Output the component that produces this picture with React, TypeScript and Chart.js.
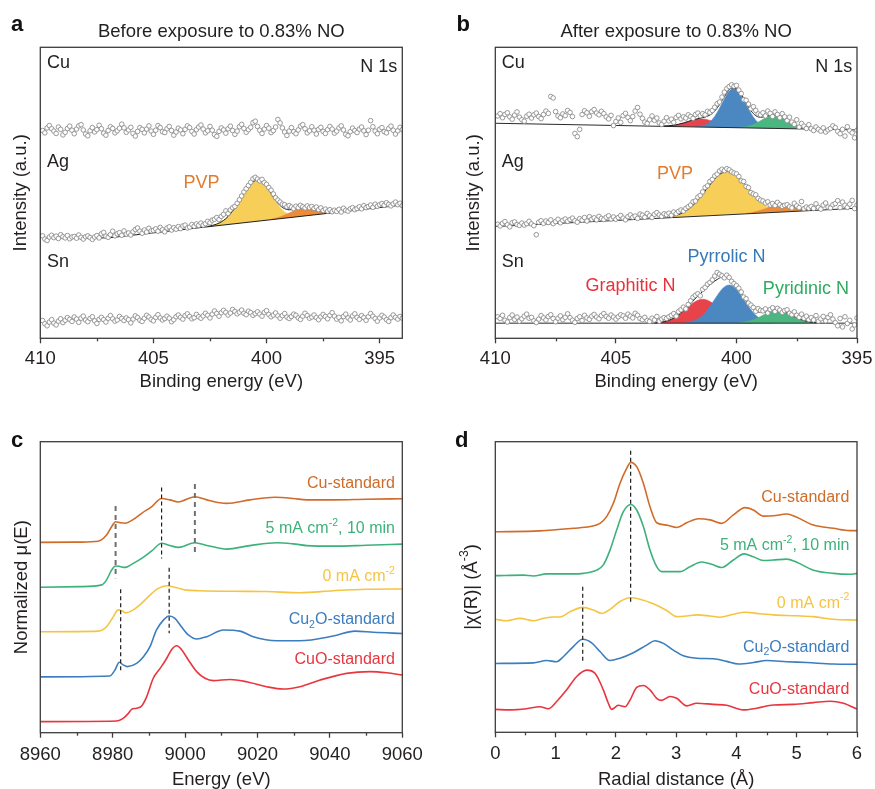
import { useEffect, useRef } from 'react';
import { Chart, registerables } from 'chart.js';

Chart.register(...registerables);

const FONT = '"Liberation Sans", Arial, Helvetica, sans-serif';
const INK = '#231f20';
const FRAME = '#3c3c3c';

// ---------------- Panel a : N 1s before exposure ----------------
const xpsStart = 409.9;
const xpsStep = 0.1;
const dotsCuA = [
  71.4, 70.6, 72.3, 73.1, 72.0, 71.2, 70.4, 72.6, 71.8, 69.9,
  70.8, 72.1, 72.9, 71.5, 70.3, 71.9, 73.0, 73.4, 71.6, 70.2,
  69.6, 71.3, 72.4, 70.9, 71.7, 73.2, 72.0, 70.5, 69.8, 71.4,
  72.7, 72.1, 70.6, 71.3, 72.2, 73.6, 72.3, 70.8, 71.6, 72.5,
  70.4, 69.5, 71.1, 72.4, 71.8, 70.6, 71.9, 73.0, 71.2, 70.1,
  71.5, 73.1, 72.4, 71.0, 70.7, 72.0, 72.8, 71.4, 69.8, 70.9,
  72.2, 71.6, 70.3, 71.8, 73.0, 72.4, 71.1, 70.2, 71.7, 72.6,
  73.3, 71.9, 70.6, 71.3, 72.8, 71.5, 70.0, 69.4, 71.1, 72.3,
  71.6, 70.5, 72.0, 72.9, 71.4, 70.1, 71.2, 72.7, 73.5, 72.1,
  70.8, 71.7, 72.5, 74.1, 74.6, 72.8, 71.5, 70.4, 71.9, 73.1,
  72.2, 70.7, 71.4, 72.6, 75.2, 74.0, 72.3, 70.9, 69.7, 71.2,
  72.4, 71.0, 70.3, 71.6, 72.9, 73.4, 72.0, 70.6, 71.3, 72.7,
  71.5, 70.2, 71.8, 72.5, 71.1, 70.4, 71.7, 72.8, 71.9, 70.5,
  71.2, 72.3, 73.0, 71.6, 70.1, 69.6, 71.0, 72.2, 71.4, 70.7,
  71.9, 72.6, 71.3, 70.0, 71.5, 74.8, 72.7, 71.2, 70.3, 71.8,
  72.4, 71.0, 70.6, 72.1, 72.9, 71.5, 70.2, 71.3, 72.5, 71.7,
];
const dotsAgA = [
  35.2, 34.1, 33.6, 34.8, 35.4, 34.6, 35.1, 34.3, 35.6, 34.9,
  34.5, 35.3, 34.2, 34.8, 35.0, 34.4, 35.5, 34.7, 34.1, 34.9,
  35.2, 34.6, 34.0, 34.8, 35.3, 34.5, 35.9, 36.4, 35.1, 34.7,
  35.6, 36.8, 35.2, 35.9, 36.3, 35.4, 36.9, 35.8, 36.2, 35.5,
  36.6, 37.4, 37.9, 36.8, 36.1, 37.2, 36.5, 37.8, 36.9, 37.1,
  37.6, 36.8, 38.1, 37.3, 36.6, 37.9, 38.3, 37.2, 38.0, 37.5,
  38.4, 37.7, 38.6, 38.9, 37.9, 38.2, 39.1, 38.5, 39.3, 38.8,
  39.6, 38.9, 39.4, 40.2, 39.7, 40.6, 40.9, 41.5, 40.8, 41.9,
  42.6, 43.8, 42.9, 44.1, 44.9, 45.3, 46.4, 47.6, 48.9, 50.3,
  51.4, 52.5, 53.6, 54.8, 55.3, 54.7, 54.1, 54.6, 53.5, 52.9,
  51.8, 50.9, 49.6, 48.3, 47.5, 46.8, 46.1, 45.9, 45.2, 45.6,
  45.1, 44.6, 45.4, 44.9, 45.7, 45.2, 44.8, 45.5, 44.9, 45.3,
  44.6, 45.1, 44.2, 44.8, 43.9, 44.4, 43.7, 44.2, 43.5, 44.0,
  43.6, 44.3, 43.4, 44.7, 44.0, 43.7, 44.5, 44.9, 44.2, 44.6,
  45.2, 44.5, 45.6, 44.9, 45.3, 45.8, 45.0, 46.1, 45.4, 45.9,
  46.3, 45.7, 46.6, 46.0, 45.5, 46.2, 46.8, 45.9, 46.4, 45.6,
];
const dotsSnA = [
  6.1, 5.0, 4.3, 5.6, 6.4, 5.2, 4.6, 5.9, 6.7, 5.4,
  6.2, 7.1, 6.5, 5.8, 7.3, 6.6, 5.5, 6.9, 7.6, 6.3,
  5.7, 6.8, 7.4, 6.0, 5.1, 6.5, 7.2, 6.4, 5.6, 6.9,
  7.8, 6.7, 5.9, 6.3, 7.5, 6.8, 6.1, 7.0, 6.4, 5.3,
  6.6, 7.7, 7.1, 6.2, 5.8, 6.9, 7.9, 7.3, 6.5, 6.0,
  7.2, 8.1, 7.0, 6.3, 6.8, 7.6, 6.9, 5.7, 6.4, 7.4,
  8.0, 7.2, 6.6, 7.8, 8.4, 7.5, 6.7, 7.1, 8.2, 7.4,
  6.9, 7.7, 8.6, 7.9, 7.0, 8.3, 9.4, 8.5, 7.6, 8.8,
  9.6, 8.9, 8.0, 8.7, 9.9, 9.2, 8.4, 9.0, 9.7, 8.6,
  8.1, 9.3, 8.8, 7.9, 8.5, 9.1, 8.3, 7.6, 8.9, 9.5,
  8.2, 7.4, 8.0, 8.7, 7.7, 6.9, 7.8, 8.5, 7.3, 6.8,
  7.5, 8.3, 7.9, 7.0, 6.5, 7.6, 8.6, 7.8, 6.9, 7.3,
  8.0, 7.1, 6.4, 7.4, 8.2, 7.5, 6.7, 7.9, 8.8, 7.6,
  6.6, 7.2, 6.0, 7.5, 8.3, 7.0, 6.3, 7.7, 8.4, 7.2,
  6.5, 7.8, 7.1, 6.2, 7.4, 8.5, 7.6, 6.8, 5.9, 7.0,
  7.9, 7.3, 6.4, 5.8, 7.1, 8.0, 7.2, 6.6, 7.5, 6.9,
];
const baseAgA_E = [409.7, 407.0, 394.0];
const baseAgA_I = [34.5, 34.5, 45.8];
const pvpMainA_E = [402.6, 402.4, 402.2, 402.0, 401.8, 401.6, 401.4, 401.2, 401.0, 400.8, 400.6, 400.4, 400.2, 400.0, 399.8, 399.6, 399.4, 399.2, 399.0, 398.8, 398.6, 398.4];
const pvpMainA_I = [38.41, 38.76, 39.25, 40.01, 41.12, 42.69, 44.74, 47.15, 49.71, 52.02, 53.68, 54.40, 53.85, 52.07, 49.61, 47.07, 44.93, 43.43, 42.52, 42.10, 41.97, 42.01];
const pvpMinorA_E = [399.8, 399.6, 399.4, 399.2, 399.0, 398.8, 398.6, 398.4, 398.2, 398.0, 397.8, 397.6, 397.4, 397.2, 397.0, 396.8];
const pvpMinorA_I = [40.90, 41.25, 41.74, 42.35, 43.05, 43.75, 44.31, 44.63, 44.66, 44.44, 44.09, 43.74, 43.47, 43.34, 43.33, 43.40];
const envAgA_E = [402.6, 402.2, 401.8, 401.4, 401.2, 401.0, 400.8, 400.6, 400.4, 400.2, 400.0, 399.8, 399.6, 399.4, 399.2, 399.0, 398.8, 398.6, 398.4, 398.2, 398.0, 397.6, 397.2, 396.8];
const envAgA_I = [38.41, 39.25, 41.12, 44.74, 47.15, 49.71, 52.02, 53.68, 54.40, 53.85, 52.15, 49.79, 47.43, 45.60, 44.54, 44.16, 44.26, 44.52, 44.71, 44.66, 44.44, 43.74, 43.34, 43.40];

// ---------------- Panel b : N 1s after exposure ----------------
const dotsCuB = [
  76.4, 77.2, 75.8, 76.9, 77.5, 76.1, 75.3, 76.7, 77.8, 76.0,
  75.1, 74.6, 76.3, 77.0, 75.7, 76.8, 77.4, 76.2, 75.5, 76.9,
  78.1, 77.3, 83.1, 82.6, 77.9, 76.4, 75.8, 77.1, 76.5, 78.3,
  77.6, 76.2, 70.4, 69.3, 71.8, 76.9, 78.2, 77.5, 76.3, 77.9,
  78.6, 77.4, 76.8, 78.0, 77.2, 76.1, 75.4, 76.6, 73.1, 74.5,
  75.7, 74.2, 76.5, 77.3, 75.9, 74.8, 76.2, 78.1, 79.3, 77.0,
  75.6, 74.3, 73.8, 75.1, 76.4, 74.9, 75.7, 74.0, 73.5, 74.6,
  75.8, 74.7, 75.3, 74.2, 75.9, 76.6, 75.4, 76.1, 75.7, 76.8,
  76.2, 75.6, 76.9, 77.4, 76.5, 77.2, 76.8, 78.0, 77.6, 78.3,
  79.4, 80.6, 81.2, 82.9, 84.6, 85.8, 86.5, 87.1, 86.6, 86.9,
  85.3, 84.1, 82.0, 81.8, 80.5, 78.9, 79.6, 78.3, 77.1, 76.8,
  77.5, 76.4, 78.1, 77.3, 76.2, 77.8, 76.9, 75.8, 77.2, 76.1,
  74.8, 76.0, 74.3, 73.5, 75.1, 72.6, 73.8, 72.9, 72.1, 73.4,
  72.0, 71.4, 72.6, 71.8, 71.2, 72.3, 70.9, 71.6, 72.1, 73.0,
  72.4, 71.1, 70.3, 71.8, 69.5, 72.7, 71.3, 70.6, 68.9, 71.5,
];
const dotsAgB = [
  39.2, 38.6, 39.5, 40.1, 39.0, 38.3, 39.7, 40.0, 39.1, 38.8,
  39.6, 38.9, 39.4, 40.2, 39.3, 38.7, 35.6, 39.9, 40.4, 39.5,
  40.3, 39.8, 40.7, 39.4, 40.1, 40.9, 39.7, 40.5, 41.0, 40.2,
  40.8, 41.3, 40.4, 39.9, 41.1, 40.6, 41.5, 40.3, 41.8, 40.9,
  41.4, 40.7, 41.9, 41.2, 40.8, 41.6, 42.1, 41.0, 41.7, 40.9,
  41.5, 42.2, 41.3, 40.7, 41.8, 42.4, 41.6, 42.0, 41.2, 42.7,
  42.3, 41.6, 42.9, 42.1, 41.5, 42.6, 43.2, 42.4, 41.9, 42.8,
  42.5, 43.0, 42.3, 43.4, 42.8, 43.6, 44.1, 43.7, 44.6, 45.2,
  45.8, 46.9, 47.2, 48.5, 49.1, 50.3, 51.8, 52.4, 53.9, 54.6,
  55.8, 56.4, 57.5, 58.1, 57.6, 58.3, 57.9, 57.2, 56.8, 56.5,
  55.6, 54.1, 53.9, 52.2, 51.8, 50.1, 49.6, 49.3, 48.1, 47.5,
  47.2, 46.5, 46.9, 45.8, 46.3, 45.6, 46.7, 45.9, 45.3, 45.7,
  45.9, 45.2, 44.8, 46.4, 45.5, 44.9, 47.0, 44.5, 45.1, 44.7,
  45.3, 44.6, 46.2, 45.0, 44.4, 45.8, 46.5, 45.1, 44.8, 45.9,
  46.3, 47.3, 44.9, 46.8, 45.7, 45.0, 46.1, 47.4, 44.6, 45.8,
];
const dotsSnB = [
  7.4, 6.8, 7.9, 6.2, 5.6, 7.1, 8.0, 6.5, 7.3, 5.9,
  6.7, 7.6, 8.3, 6.9, 7.2, 6.0, 5.4, 6.6, 7.8, 7.0,
  6.3, 7.5, 8.1, 6.8, 5.7, 6.9, 7.7, 6.4, 7.2, 8.4,
  7.1, 6.2, 5.5, 6.8, 7.4, 6.1, 7.9, 7.0, 6.5, 7.6,
  8.2, 7.3, 6.7, 7.8, 8.5, 7.5, 6.9, 8.0, 7.3, 6.6,
  7.4, 8.1, 7.7, 6.9, 8.3, 7.6, 7.0, 8.6, 7.9, 6.8,
  6.4, 7.2, 6.1, 5.8, 6.9, 6.3, 7.5, 5.9, 6.6, 7.1,
  6.8, 7.4, 7.9, 8.5, 7.6, 9.2, 9.8, 10.7, 10.1, 11.6,
  12.9, 14.1, 14.8, 15.3, 14.6, 16.8, 17.5, 18.6, 19.2, 20.1,
  21.4, 22.6, 22.0, 21.5, 20.8, 21.7, 20.9, 19.6, 18.8, 18.1,
  17.2, 15.9, 14.2, 13.6, 12.1, 11.4, 10.6, 9.3, 10.2, 9.6,
  9.4, 10.1, 8.7, 9.9, 10.5, 9.2, 10.3, 9.7, 8.9, 9.5,
  9.8, 8.6, 8.1, 9.1, 7.9, 7.2, 8.3, 6.9, 7.6, 6.4,
  7.1, 6.3, 7.8, 5.9, 6.7, 7.5, 6.0, 7.2, 8.1, 6.6,
  5.4, 4.3, 6.8, 3.9, 7.4, 5.1, 6.2, 3.2, 4.6, 7.0,
];
const baseCuB_E = [410, 395];
const baseCuB_I = [73.9, 71.6];
const graphCuB_E = [403.0, 402.8, 402.6, 402.4, 402.2, 402.0, 401.8, 401.6, 401.4, 401.2, 401.0, 400.8, 400.6, 400.4, 400.2, 400.0, 399.8];
const graphCuB_I = [72.93, 73.02, 73.22, 73.54, 73.98, 74.51, 75.00, 75.32, 75.37, 75.12, 74.63, 74.05, 73.49, 73.04, 72.72, 72.52, 72.40];
const pyrrCuB_E = [401.7, 401.5, 401.3, 401.1, 400.9, 400.7, 400.5, 400.3, 400.1, 399.9, 399.7, 399.5, 399.3, 399.1, 398.9, 398.7, 398.5];
const pyrrCuB_I = [72.71, 72.87, 73.33, 74.37, 76.26, 79.05, 82.25, 84.88, 85.89, 84.82, 82.13, 78.87, 76.02, 74.07, 72.97, 72.45, 72.23];
const pyriCuB_E = [399.9, 399.7, 399.5, 399.3, 399.1, 398.9, 398.7, 398.5, 398.3, 398.1, 397.9, 397.7, 397.5, 397.3, 397.1, 396.9];
const pyriCuB_I = [72.46, 72.60, 72.91, 73.47, 74.28, 75.24, 76.13, 76.67, 76.64, 76.04, 75.09, 74.06, 73.19, 72.57, 72.20, 72.00];
const envCuB_E = [403.0, 402.6, 402.2, 401.8, 401.6, 401.4, 401.2, 401.0, 400.8, 400.6, 400.4, 400.2, 400.0, 399.8, 399.6, 399.4, 399.2, 399.0, 398.8, 398.6, 398.4, 398.2, 398.0, 397.8, 397.6, 397.4, 397.2, 397.0, 396.8];
const envCuB_I = [72.93, 73.22, 73.98, 75.04, 75.47, 75.83, 76.32, 77.30, 79.12, 81.68, 84.32, 85.95, 85.75, 83.86, 80.93, 78.23, 76.52, 75.96, 76.18, 76.62, 76.77, 76.41, 75.60, 74.57, 73.60, 72.85, 72.37, 72.09, 71.95];
const baseAgB_E = [410, 395];
const baseAgB_I = [38.4, 44.7];
const pvpMainB_E = [402.8, 402.6, 402.4, 402.2, 402.0, 401.8, 401.6, 401.4, 401.2, 401.0, 400.8, 400.6, 400.4, 400.2, 400.0, 399.8, 399.6, 399.4, 399.2, 399.0, 398.8, 398.6, 398.4, 398.2, 398.0];
const pvpMainB_I = [41.70, 42.03, 42.53, 43.26, 44.30, 45.68, 47.43, 49.47, 51.67, 53.80, 55.60, 56.84, 57.33, 57.01, 55.94, 54.30, 52.34, 50.31, 48.44, 46.86, 45.64, 44.77, 44.21, 43.88, 43.72];
const pvpMinorB_E = [399.6, 399.4, 399.2, 399.0, 398.8, 398.6, 398.4, 398.2, 398.0, 397.8, 397.6, 397.4, 397.2, 397.0, 396.8];
const pvpMinorB_I = [42.93, 43.17, 43.54, 44.01, 44.56, 45.11, 45.63, 45.76, 45.71, 45.44, 45.07, 44.68, 44.38, 44.18, 44.10];
const envAgB_E = [402.8, 402.4, 402.0, 401.6, 401.2, 400.8, 400.6, 400.4, 400.2, 400.0, 399.8, 399.6, 399.4, 399.2, 399.0, 398.8, 398.6, 398.4, 398.2, 398.0, 397.8, 397.6, 397.4, 397.2, 397.0, 396.8];
const envAgB_I = [41.70, 42.53, 44.30, 47.43, 51.67, 55.60, 56.84, 57.33, 57.01, 55.94, 54.36, 52.50, 50.63, 49.04, 47.85, 47.10, 46.69, 46.48, 46.28, 45.99, 45.58, 45.13, 44.68, 44.38, 44.18, 44.10];
const baseSnB_E = [410, 395];
const baseSnB_I = [5.2, 5.2];
const graphSnB_E = [403.4, 403.2, 403.0, 402.8, 402.6, 402.4, 402.2, 402.0, 401.8, 401.6, 401.4, 401.2, 401.0, 400.8, 400.6, 400.4, 400.2, 400.0, 399.8, 399.6, 399.4];
const graphSnB_I = [5.31, 5.45, 5.71, 6.18, 6.93, 7.98, 9.31, 10.76, 12.10, 13.05, 13.40, 13.05, 12.10, 10.76, 9.31, 7.98, 6.93, 6.18, 5.71, 5.45, 5.31];
const pyrrSnB_E = [402.1, 401.9, 401.7, 401.5, 401.3, 401.1, 400.9, 400.7, 400.5, 400.3, 400.1, 399.9, 399.7, 399.5, 399.3, 399.1, 398.9, 398.7, 398.5];
const pyrrSnB_I = [5.39, 5.67, 6.22, 7.22, 8.77, 10.90, 13.40, 15.84, 17.63, 18.30, 17.63, 15.84, 13.40, 10.90, 8.77, 7.22, 6.22, 5.67, 5.39];
const pyriSnB_E = [399.9, 399.7, 399.5, 399.3, 399.1, 398.9, 398.7, 398.5, 398.3, 398.1, 397.9, 397.7, 397.5, 397.3, 397.1, 396.9, 396.7];
const pyriSnB_I = [5.35, 5.54, 5.86, 6.37, 7.07, 7.89, 8.69, 9.28, 9.50, 9.28, 8.69, 7.89, 7.07, 6.37, 5.86, 5.54, 5.35];
const envSnB_E = [403.4, 403.0, 402.6, 402.2, 402.0, 401.8, 401.6, 401.4, 401.2, 401.0, 400.8, 400.6, 400.4, 400.2, 400.0, 399.8, 399.6, 399.4, 399.2, 399.0, 398.8, 398.6, 398.4, 398.2, 398.0, 397.8, 397.6, 397.4, 397.2, 397.0, 396.8, 396.6];
const envSnB_I = [5.31, 5.71, 6.93, 9.43, 11.06, 12.80, 14.50, 16.11, 17.62, 19.03, 20.22, 20.97, 20.91, 19.86, 17.94, 15.40, 12.86, 10.77, 9.46, 8.92, 9.00, 9.33, 9.56, 9.44, 9.03, 8.30, 7.47, 6.70, 6.09, 5.68, 5.43, 5.30];

const xpsMajorTicks = [410, 405, 400, 395];
const xpsMinorTicks = [407.5, 402.5, 397.5];

// ---------------- Panel c : XANES ----------------
const cuStdC_E = [8960, 8971, 8976, 8978.3, 8979.7, 8980.8, 8982, 8983.4, 8985.7, 8988, 8990.8, 8993.5, 8995.8, 8998.1, 9002.7, 9006, 9009.6, 9011.5, 9017.9, 9024.8, 9029.9, 9033.6, 9040.9, 9050, 9060];
const cuStdC_I = [65.4, 65.5, 65.8, 67.9, 70.8, 72.5, 72.2, 72.0, 73.3, 75.4, 77.7, 80.5, 80.0, 79.3, 81.1, 80.0, 79.0, 78.8, 80.0, 80.9, 80.5, 80.0, 80.0, 80.2, 80.4];
const fiveMaC_E = [8960, 8971, 8977, 8978.3, 8979.7, 8980.8, 8982, 8983.4, 8985.7, 8988, 8990.8, 8993.5, 8995.8, 8998.3, 9002.7, 9006, 9009.6, 9011.5, 9017.9, 9025.3, 9029.9, 9033.6, 9040.9, 9050, 9060];
const fiveMaC_I = [50.0, 50.2, 50.8, 52.5, 55.9, 57.3, 57.1, 56.8, 58.2, 59.9, 62.5, 65.1, 64.3, 63.7, 65.3, 64.3, 63.4, 63.1, 64.3, 65.3, 64.9, 64.3, 64.1, 64.4, 64.8];
const zeroMaC_E = [8960, 8976, 8978.3, 8980.2, 8981.5, 8982.5, 8983.7, 8985.7, 8987.5, 8990.3, 8992.6, 8994.9, 8997.7, 9000.4, 9004.1, 9013.3, 9022.5, 9031.7, 9040.9, 9050.1, 9060];
const zeroMaC_I = [34.7, 34.9, 36.4, 39.9, 42.2, 41.9, 41.2, 42.2, 43.9, 47.3, 49.6, 50.5, 49.8, 49.0, 48.8, 48.6, 48.5, 48.1, 48.8, 49.3, 49.4];
const cu2oC_E = [8960, 8979.2, 8980.6, 8981.8, 8982.9, 8984.0, 8986.6, 8988.5, 8990.3, 8992.1, 8994.0, 8995.6, 8997.2, 8999.0, 9000.9, 9003.2, 9006.0, 9010.6, 9015.2, 9018.8, 9025.3, 9031.7, 9040.9, 9046.9, 9052.0, 9060];
const cu2oC_I = [19.2, 19.5, 21.5, 24.2, 23.3, 22.7, 23.8, 26.1, 29.6, 35.3, 38.7, 40.1, 39.3, 36.4, 33.6, 32.2, 33.0, 35.3, 34.9, 33.0, 31.6, 31.6, 33.2, 34.9, 34.5, 34.1];
const cuoC_E = [8960, 8981.1, 8982.9, 8984.3, 8985.2, 8986.6, 8988.0, 8989.4, 8991.2, 8993.1, 8994.9, 8996.3, 8997.7, 8999.0, 9000.9, 9003.2, 9005.5, 9007.8, 9012.4, 9017.0, 9022.5, 9027.1, 9031.7, 9037.3, 9044.6, 9051.1, 9055.7, 9060];
const cuoC_I = [3.8, 4.0, 4.9, 6.6, 8.0, 8.4, 9.2, 12.4, 18.7, 22.1, 25.5, 28.6, 29.9, 28.6, 25.0, 21.0, 18.7, 17.9, 18.3, 17.5, 15.8, 15.0, 15.8, 18.1, 20.4, 21.0, 20.6, 19.8];
const dashC_E = [8980.8, 8993.5, 9002.7, 8982.2, 8995.6];
const dashC_top = [77.9, 84.3, 85.5, 49.3, 56.7];
const dashC_bottom = [53.1, 59.9, 60.7, 21.0, 34.2];
const dashC_gray = [true, false, true, false, false];
const xanesMajorTicks = [8960, 8980, 9000, 9020, 9040, 9060];
const xanesMinorTicks = [8970, 8990, 9010, 9030, 9050];

// ---------------- Panel d : EXAFS ----------------
const cuStdD_R = [0, 0.741, 1.294, 1.571, 1.737, 1.847, 1.958, 2.069, 2.179, 2.246, 2.345, 2.456, 2.566, 2.677, 2.843, 3.009, 3.175, 3.368, 3.562, 3.756, 3.949, 4.143, 4.281, 4.447, 4.613, 4.834, 5.0, 5.277, 5.608, 5.885, 6.0];
const cuStdD_I = [69.0, 69.3, 70.2, 70.8, 71.9, 74.2, 78.8, 85.7, 90.8, 92.9, 91.4, 85.7, 77.6, 72.1, 71.3, 70.5, 72.1, 73.5, 73.1, 71.9, 74.8, 77.3, 76.5, 74.4, 74.5, 75.1, 74.0, 71.3, 70.2, 69.4, 69.4];
const fiveMaD_R = [0, 0.465, 0.631, 0.852, 1.294, 1.46, 1.681, 1.792, 1.903, 2.013, 2.124, 2.246, 2.345, 2.456, 2.566, 2.677, 2.76, 3.064, 3.23, 3.424, 3.59, 3.756, 3.949, 4.126, 4.281, 4.447, 4.613, 4.834, 5.0, 5.277, 5.608, 5.885, 6.0];
const fiveMaD_I = [53.9, 54.1, 53.8, 54.5, 54.5, 54.7, 55.8, 57.6, 62.7, 69.6, 75.9, 78.4, 76.5, 70.8, 62.7, 57.0, 55.3, 55.3, 57.0, 58.6, 57.8, 56.7, 59.3, 61.4, 60.4, 59.1, 59.3, 59.6, 58.5, 55.8, 54.7, 54.4, 54.7];
const zeroMaD_R = [0, 0.188, 0.409, 0.631, 0.796, 0.962, 1.073, 1.239, 1.449, 1.626, 1.764, 1.903, 2.069, 2.235, 2.4, 2.622, 2.843, 3.009, 3.175, 3.341, 3.562, 3.728, 3.949, 4.143, 4.392, 4.613, 5.0, 5.277, 5.608, 6.0];
const zeroMaD_I = [38.9, 38.4, 39.2, 38.4, 39.2, 39.7, 39.7, 41.5, 43.0, 42.1, 40.9, 42.3, 45.0, 46.3, 45.8, 44.2, 41.9, 39.8, 40.0, 40.4, 40.0, 39.6, 40.6, 41.3, 40.8, 40.4, 40.1, 39.8, 38.9, 38.6];
const cu2oD_R = [0, 0.631, 0.852, 1.018, 1.128, 1.294, 1.449, 1.598, 1.737, 1.903, 2.069, 2.29, 2.511, 2.649, 2.788, 2.954, 3.119, 3.341, 3.617, 3.838, 4.032, 4.281, 4.502, 4.834, 5.166, 5.608, 6.0];
const cu2oD_I = [23.7, 23.9, 24.7, 24.3, 26.0, 29.5, 32.0, 30.8, 27.8, 24.7, 25.5, 27.4, 30.0, 31.5, 30.6, 28.3, 26.3, 25.5, 25.3, 24.4, 23.5, 24.0, 24.7, 24.3, 24.0, 23.5, 23.4];
const cuoD_R = [0, 0.243, 0.52, 0.741, 0.879, 1.018, 1.184, 1.35, 1.515, 1.654, 1.792, 1.875, 1.93, 2.041, 2.152, 2.235, 2.345, 2.456, 2.566, 2.677, 2.76, 2.898, 3.009, 3.175, 3.341, 3.617, 3.838, 4.115, 4.336, 4.613, 4.945, 5.277, 5.553, 5.774, 6.0];
const cuoD_I = [7.9, 7.7, 8.1, 8.8, 8.1, 10.6, 14.6, 19.2, 21.4, 20.3, 14.6, 10.0, 7.9, 9.3, 8.8, 11.1, 15.5, 16.1, 14.6, 11.7, 11.0, 12.3, 11.7, 9.1, 10.0, 9.6, 9.3, 7.7, 8.3, 9.4, 9.6, 10.2, 10.7, 10.0, 8.0];
const dashD_R = [2.245, 1.45];
const dashD_top = [96.9, 50.1];
const dashD_bottom = [44.4, 23.7];
const exafsMajorTicks = [0, 1, 2, 3, 4, 5, 6];
const exafsMinorTicks = [0.5, 1.5, 2.5, 3.5, 4.5, 5.5];

// ---------------- colours ----------------
const C_CU = '#D06B28';
const C_5MA = '#3CB27A';
const C_0MA = '#F5C443';
const C_CU2O = '#3B7DBE';
const C_CUO = '#E8363F';
const F_YEL = '#F7CE58';
const F_ORA = '#EE8B36';
const F_RED = '#E8424A';
const F_BLU = '#4B88C2';
const F_GRN = '#4AB680';
const L_PVP = '#E27B2B';
const L_GRAPH = '#E8313B';
const L_PYRR = '#3679BA';
const L_PYRI = '#2FAA62';

// ---------------- helpers ----------------
type Part = { t: string; s?: 'sup' | 'sub' };
type Label = { x: number; y: number; parts: Part[]; align: 'left' | 'right' | 'center'; color: string; size: number };

const pts = (xs: number[], ys: number[]) => ys.map((y, i) => ({ x: xs[i], y }));
const energyGrid = (n: number) => Array.from({ length: n }, (_, i) => Math.round((xpsStart - xpsStep * i) * 100) / 100);

const dots = (xs: number[], ys: number[]) => ({
  data: pts(xs, ys), showLine: false, pointRadius: 2.3, pointBorderWidth: 0.9,
  pointBorderColor: '#8d8d8d', pointBackgroundColor: '#ffffff', borderColor: '#8d8d8d', fill: false,
});
const curve = (xs: number[], ys: number[], color: string, width: number) => ({
  data: pts(xs, ys), borderColor: color, borderWidth: width, pointRadius: 0,
  cubicInterpolationMode: 'monotone', fill: false,
});
const straight = (xs: number[], ys: number[], color: string, width: number) => ({
  data: pts(xs, ys), borderColor: color, borderWidth: width, pointRadius: 0, tension: 0, fill: false,
});
const band = (xs: number[], ys: number[], color: string, target: number) => ({
  data: pts(xs, ys), borderColor: color, borderWidth: 0.6, backgroundColor: color, pointRadius: 0,
  cubicInterpolationMode: 'monotone', fill: target,
});
const dashed = (x: number, y0: number, y1: number, gray: boolean) => ({
  data: [{ x, y: y0 }, { x, y: y1 }], borderColor: gray ? '#6f6f6f' : '#1a1a1a',
  borderWidth: gray ? 2 : 1.2, borderDash: gray ? [5, 4] : [4, 3], pointRadius: 0, fill: false,
});
const txt = (x: number, y: number, parts: Part[], align: Label['align'], color: string, size: number): Label => ({ x, y, parts, align, color, size });

function drawRich(ctx: CanvasRenderingContext2D, parts: Part[], x: number, y: number, align: string, size: number, color: string) {
  const small = size * 0.66;
  const widths = parts.map((p) => {
    ctx.font = `${p.s ? small : size}px ${FONT}`;
    return ctx.measureText(p.t).width;
  });
  const total = widths.reduce((a, b) => a + b, 0);
  let cx = align === 'left' ? x : align === 'right' ? x - total : x - total / 2;
  ctx.fillStyle = color;
  ctx.textAlign = 'left';
  ctx.textBaseline = 'middle';
  parts.forEach((p, i) => {
    ctx.font = `${p.s ? small : size}px ${FONT}`;
    const dy = p.s === 'sup' ? -size * 0.36 : p.s === 'sub' ? size * 0.3 : 0;
    ctx.fillText(p.t, cx, y + dy);
    cx += widths[i];
  });
}

interface Spec {
  left: number; top: number; w: number; h: number;
  area: { l: number; t: number; r: number; b: number };
  xMin: number; xMax: number; reverse: boolean;
  major: number[]; minor: number[];
  tickPad: number;
  xTitle: string; xTitlePad: number;
  yTitle: string | null; yTitlePad: number;
  yTitleRich?: Part[]; yTitleX?: number;
  letter: string; letterX: number; letterY: number;
  title?: string;
  labels: Label[];
  datasets: any[];
}

function decoPlugin(s: Spec) {
  return {
    id: 'deco_' + s.letter,
    afterDraw(chart: any) {
      const { ctx, chartArea: a, scales } = chart;
      const xs = scales.x;
      const ys = scales.y;
      ctx.save();
      ctx.strokeStyle = FRAME;
      ctx.lineWidth = 1.3;
      ctx.strokeRect(a.left, a.top, a.right - a.left, a.bottom - a.top);
      s.minor.forEach((v) => {
        const px = Math.round(xs.getPixelForValue(v)) + 0.5;
        ctx.beginPath();
        ctx.moveTo(px, a.bottom);
        ctx.lineTo(px, a.bottom + 3);
        ctx.stroke();
      });
      ctx.font = `bold 22px ${FONT}`;
      ctx.fillStyle = '#111';
      ctx.textAlign = 'left';
      ctx.textBaseline = 'alphabetic';
      ctx.fillText(s.letter, s.letterX, s.letterY);
      if (s.title) {
        ctx.font = `18.5px ${FONT}`;
        ctx.fillStyle = INK;
        ctx.textAlign = 'center';
        ctx.textBaseline = 'middle';
        ctx.fillText(s.title, (a.left + a.right) / 2, a.top - 15.3);
      }
      s.labels.forEach((l) => {
        drawRich(ctx, l.parts, xs.getPixelForValue(l.x), ys.getPixelForValue(l.y), l.align, l.size, l.color);
      });
      if (s.yTitleRich) {
        ctx.translate(s.yTitleX || 0, (a.top + a.bottom) / 2);
        ctx.rotate(-Math.PI / 2);
        drawRich(ctx, s.yTitleRich, 0, 0, 'center', 18.5, INK);
      }
      ctx.restore();
    },
  };
}

function buildConfig(s: Spec): any {
  return {
    type: 'line',
    data: { datasets: s.datasets },
    options: {
      animation: false,
      responsive: false,
      devicePixelRatio: 1,
      events: [],
      layout: { padding: { left: 0, top: s.area.t, right: s.w - s.area.r, bottom: 0 } },
      plugins: { legend: { display: false }, tooltip: { enabled: false }, title: { display: false } },
      scales: {
        x: {
          type: 'linear', min: s.xMin, max: s.xMax, reverse: s.reverse,
          afterBuildTicks: (sc: any) => { sc.ticks = s.major.map((v) => ({ value: v })); },
          afterFit: (sc: any) => { sc.height = s.h - s.area.b; sc.paddingLeft = 0; sc.paddingRight = 0; },
          ticks: {
            color: INK, font: { family: FONT, size: 18.5 }, padding: s.tickPad,
            maxRotation: 0, minRotation: 0, autoSkip: false, callback: (v: number) => String(v),
          },
          grid: { display: true, drawOnChartArea: false, drawTicks: true, tickLength: 5, tickColor: FRAME, tickWidth: 1.3 },
          border: { display: false },
          title: { display: true, text: s.xTitle, color: INK, font: { family: FONT, size: 18.5 }, padding: { top: 0, bottom: s.xTitlePad } },
        },
        y: {
          type: 'linear', min: 0, max: 100,
          afterFit: (sc: any) => { sc.width = s.area.l; },
          ticks: { display: false },
          grid: { display: false },
          border: { display: false },
          title: { display: !!s.yTitle, text: s.yTitle || '', color: INK, font: { family: FONT, size: 18.5 }, padding: { top: s.yTitlePad, bottom: 0 } },
        },
      },
    },
    plugins: [decoPlugin(s)],
  };
}

// ---------------- panel specs ----------------
function specA(): Spec {
  const e = energyGrid(dotsCuA.length);
  return {
    left: 0, top: 0, w: 440, h: 400,
    area: { l: 40.3, t: 47.3, r: 402.3, b: 338.3 },
    xMin: 394, xMax: 410, reverse: true, major: xpsMajorTicks, minor: xpsMinorTicks, tickPad: 5,
    xTitle: 'Binding energy (eV)', xTitlePad: 6.5, yTitle: 'Intensity (a.u.)', yTitlePad: 10,
    letter: 'a', letterX: 11, letterY: 31, title: 'Before exposure to 0.83% NO',
    labels: [
      txt(409.7, 94.6, [{ t: 'Cu' }], 'left', INK, 18),
      txt(394.22, 93.2, [{ t: 'N 1s' }], 'right', INK, 18),
      txt(409.7, 60.6, [{ t: 'Ag' }], 'left', INK, 18),
      txt(402.87, 53.4, [{ t: 'PVP' }], 'center', L_PVP, 18),
      txt(409.7, 26.2, [{ t: 'Sn' }], 'left', INK, 18),
    ],
    datasets: [
      dots(e, dotsCuA), dots(e, dotsAgA), dots(e, dotsSnA),
      curve(envAgA_E, envAgA_I, '#1e1e1e', 1),
      straight(baseAgA_E, baseAgA_I, '#1e1e1e', 1),
      band(pvpMinorA_E, pvpMinorA_I, F_ORA, 4),
      band(pvpMainA_E, pvpMainA_I, F_YEL, 4),
    ],
  };
}

function specB(): Spec {
  const e = energyGrid(dotsCuB.length);
  return {
    left: 440, top: 0, w: 435, h: 400,
    area: { l: 55.3, t: 47.3, r: 417, b: 338.3 },
    xMin: 395, xMax: 410, reverse: true, major: xpsMajorTicks, minor: xpsMinorTicks, tickPad: 5,
    xTitle: 'Binding energy (eV)', xTitlePad: 6.5, yTitle: 'Intensity (a.u.)', yTitlePad: 23,
    letter: 'b', letterX: 16.5, letterY: 31, title: 'After exposure to 0.83% NO',
    labels: [
      txt(409.73, 94.6, [{ t: 'Cu' }], 'left', INK, 18),
      txt(395.2, 93.2, [{ t: 'N 1s' }], 'right', INK, 18),
      txt(409.73, 60.6, [{ t: 'Ag' }], 'left', INK, 18),
      txt(402.55, 56.5, [{ t: 'PVP' }], 'center', L_PVP, 18),
      txt(409.73, 26.2, [{ t: 'Sn' }], 'left', INK, 18),
      txt(400.41, 28.0, [{ t: 'Pyrrolic N' }], 'center', L_PYRR, 18),
      txt(404.39, 18.1, [{ t: 'Graphitic N' }], 'center', L_GRAPH, 18),
      txt(397.12, 16.8, [{ t: 'Pyridinic N' }], 'center', L_PYRI, 18),
    ],
    datasets: [
      dots(e, dotsCuB), dots(e, dotsAgB), dots(e, dotsSnB),
      curve(envCuB_E, envCuB_I, '#1e1e1e', 1),
      curve(envAgB_E, envAgB_I, '#1e1e1e', 1),
      curve(envSnB_E, envSnB_I, '#1e1e1e', 1),
      straight(baseCuB_E, baseCuB_I, '#2a2a2a', 1),
      straight(baseAgB_E, baseAgB_I, '#2a2a2a', 1),
      straight(baseSnB_E, baseSnB_I, '#2a2a2a', 1),
      band(pyriCuB_E, pyriCuB_I, F_GRN, 6),
      band(pyrrCuB_E, pyrrCuB_I, F_BLU, 6),
      band(graphCuB_E, graphCuB_I, F_RED, 6),
      band(pvpMinorB_E, pvpMinorB_I, F_ORA, 7),
      band(pvpMainB_E, pvpMainB_I, F_YEL, 7),
      band(pyriSnB_E, pyriSnB_I, F_GRN, 8),
      band(pyrrSnB_E, pyrrSnB_I, F_BLU, 8),
      band(graphSnB_E, graphSnB_I, F_RED, 8),
    ],
  };
}

function specC(): Spec {
  return {
    left: 0, top: 400, w: 440, h: 400,
    area: { l: 40.3, t: 41.7, r: 402.3, b: 332.7 },
    xMin: 8960, xMax: 9060, reverse: false, major: xanesMajorTicks, minor: xanesMinorTicks, tickPad: 6,
    xTitle: 'Energy (eV)', xTitlePad: 9, yTitle: 'Normalized μ(E)', yTitlePad: 10.5,
    letter: 'c', letterX: 11, letterY: 46.7,
    labels: [
      txt(9057.98, 85.7, [{ t: 'Cu-standard' }], 'right', C_CU, 16),
      txt(9057.98, 70.2, [{ t: '5 mA cm' }, { t: '-2', s: 'sup' }, { t: ', 10 min' }], 'right', C_5MA, 16),
      txt(9057.98, 53.6, [{ t: '0 mA cm' }, { t: '-2', s: 'sup' }], 'right', C_0MA, 16),
      txt(9057.98, 38.7, [{ t: 'Cu' }, { t: '2', s: 'sub' }, { t: 'O-standard' }], 'right', C_CU2O, 16),
      txt(9057.98, 25.0, [{ t: 'CuO-standard' }], 'right', C_CUO, 16),
    ],
    datasets: [
      ...dashC_E.map((x, i) => dashed(x, dashC_top[i], dashC_bottom[i], dashC_gray[i])),
      curve(cuStdC_E, cuStdC_I, C_CU, 1.6),
      curve(fiveMaC_E, fiveMaC_I, C_5MA, 1.6),
      curve(zeroMaC_E, zeroMaC_I, C_0MA, 1.6),
      curve(cu2oC_E, cu2oC_I, C_CU2O, 1.6),
      curve(cuoC_E, cuoC_I, C_CUO, 1.6),
    ],
  };
}

function specD(): Spec {
  return {
    left: 440, top: 400, w: 435, h: 400,
    area: { l: 55.3, t: 41.7, r: 417, b: 332.3 },
    xMin: 0, xMax: 6, reverse: false, major: exafsMajorTicks, minor: exafsMinorTicks, tickPad: 6,
    xTitle: 'Radial distance (Å)', xTitlePad: 9, yTitle: null, yTitlePad: 0,
    yTitleRich: [{ t: '|χ(R)| (Å' }, { t: '-3', s: 'sup' }, { t: ')' }], yTitleX: 31.7,
    letter: 'd', letterX: 15, letterY: 47.3,
    labels: [
      txt(5.873, 80.7, [{ t: 'Cu-standard' }], 'right', C_CU, 16),
      txt(5.873, 64.2, [{ t: '5 mA cm' }, { t: '-2', s: 'sup' }, { t: ', 10 min' }], 'right', C_5MA, 16),
      txt(5.873, 44.4, [{ t: '0 mA cm' }, { t: '-2', s: 'sup' }], 'right', C_0MA, 16),
      txt(5.873, 29.2, [{ t: 'Cu' }, { t: '2', s: 'sub' }, { t: 'O-standard' }], 'right', C_CU2O, 16),
      txt(5.873, 14.6, [{ t: 'CuO-standard' }], 'right', C_CUO, 16),
    ],
    datasets: [
      ...dashD_R.map((x, i) => dashed(x, dashD_top[i], dashD_bottom[i], false)),
      curve(cuStdD_R, cuStdD_I, C_CU, 1.6),
      curve(fiveMaD_R, fiveMaD_I, C_5MA, 1.6),
      curve(zeroMaD_R, zeroMaD_I, C_0MA, 1.6),
      curve(cu2oD_R, cu2oD_I, C_CU2O, 1.6),
      curve(cuoD_R, cuoD_I, C_CUO, 1.6),
    ],
  };
}

function Panel({ make }: { make: () => Spec }) {
  const ref = useRef<HTMLCanvasElement | null>(null);
  const spec = make();
  useEffect(() => {
    if (!ref.current) return;
    const chart = new Chart(ref.current, buildConfig(make()));
    return () => chart.destroy();
  }, []);
  return (
    <canvas
      ref={ref}
      width={spec.w}
      height={spec.h}
      style={{ position: 'absolute', left: spec.left, top: spec.top, width: spec.w, height: spec.h }}
    />
  );
}

export default function App() {
  return (
    <div style={{ position: 'absolute', left: 0, top: 0, width: 875, height: 789, overflow: 'hidden', background: '#ffffff' }}>
      <Panel make={specA} />
      <Panel make={specB} />
      <Panel make={specC} />
      <Panel make={specD} />
    </div>
  );
}
